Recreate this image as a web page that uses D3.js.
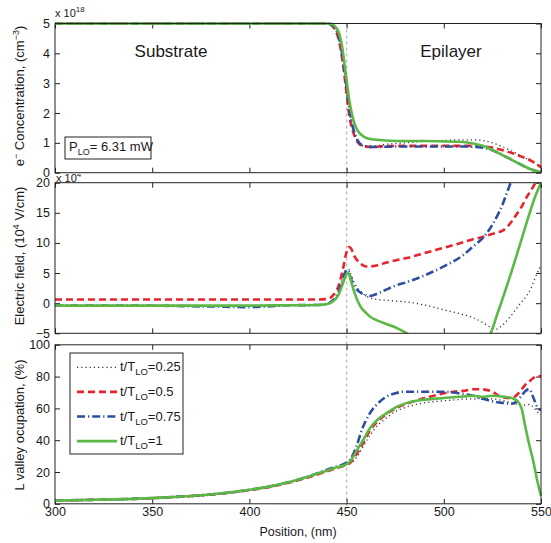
<!DOCTYPE html>
<html>
<head>
<meta charset="utf-8">
<title>LO pulse profiles</title>
<script src="https://d3js.org/d3.v7.min.js"></script>
<style>
  body { margin: 0; background: #fff; }
  text { font-family: "Liberation Sans", Arial, Helvetica, sans-serif; fill: #1a1a1a; }
  .tick line { stroke: #222; }
</style>
</head>
<body>
<div id="chart"></div>
<script>
// ---- data ----
var seriesLabels = ["0.25", "0.5", "0.75", "1"];

// electron concentration (x 1e18 cm^-3)
var concPos   = [300, 440, 442, 444, 446, 448, 449, 450, 451, 452, 454, 456, 459, 463, 470, 480, 490, 500, 510, 515, 520, 525, 530, 535, 540, 545, 550];
var concDot   = [5, 5, 4.96, 4.82, 4.5, 3.8, 3.3, 2.8, 2.3, 1.85, 1.3, 1.02, 0.9, 0.9, 0.95, 1.0, 1.05, 1.08, 1.1, 1.1, 1.08, 1.0, 0.88, 0.72, 0.56, 0.38, 0.2];
var concRed   = [5, 5, 4.95, 4.8, 4.45, 3.7, 3.2, 2.65, 2.1, 1.7, 1.25, 1.0, 0.88, 0.86, 0.89, 0.9, 0.9, 0.9, 0.9, 0.9, 0.88, 0.84, 0.76, 0.66, 0.54, 0.4, 0.18];
var concBlue  = [5, 5, 4.97, 4.85, 4.55, 3.85, 3.35, 2.85, 2.35, 1.9, 1.35, 1.05, 0.9, 0.86, 0.87, 0.88, 0.88, 0.88, 0.88, 0.87, 0.84, 0.75, 0.6, 0.43, 0.26, 0.11, 0.02];
var concGreen = [5, 5, 4.98, 4.9, 4.7, 4.1, 3.6, 3.1, 2.6, 2.2, 1.65, 1.38, 1.2, 1.12, 1.08, 1.06, 1.06, 1.05, 1.03, 0.98, 0.9, 0.76, 0.6, 0.43, 0.26, 0.11, 0.02];

// electric field (x 1e4 V/cm)
var fieldPos   = [300, 340, 380, 400, 420, 435, 440, 443, 446, 448, 450, 451, 452, 454, 457, 460, 462, 466, 470, 475, 481, 490, 500, 510, 515, 520, 524, 527, 530, 533, 535, 538, 540, 543, 545, 547, 550];
var fieldDot   = [-0.4, -0.4, -0.45, -0.5, -0.35, -0.3, -0.1, 0.4, 1.8, 3.8, 5.5, 5.6, 5.0, 3.4, 2.0, 1.2, 0.9, 0.6, 0.5, 0.35, 0.2, -0.3, -1.1, -1.9, -2.4, -3.2, -4.0, -4.3, -3.7, -2.7, -1.9, -0.6, 0.2, 1.4, 2.6, 4.2, 6.3];
var fieldRed   = [0.6, 0.6, 0.6, 0.6, 0.6, 0.6, 0.7, 1.3, 3.0, 5.5, 8.5, 9.3, 9.2, 7.8, 6.6, 6.1, 6.1, 6.3, 6.7, 7.1, 7.5, 8.3, 9.2, 10.1, 10.6, 11.0, 11.4, 11.7, 12.0, 12.8, 13.6, 15.0, 16.0, 17.8, 18.8, 19.9, 21.5];
var fieldBlue  = [-0.4, -0.4, -0.55, -0.65, -0.35, -0.3, -0.1, 0.5, 2.0, 4.0, 5.5, 5.3, 4.3, 2.8, 1.8, 1.3, 1.2, 1.6, 2.2, 2.9, 3.5, 4.6, 6.1, 8.0, 9.4, 10.8, 12.5, 14.2, 16.2, 18.8, 20.5, 23, 24, 26, 27, 28, 30];
var fieldGreen = [-0.4, -0.4, -0.4, -0.4, -0.35, -0.3, -0.15, 0.3, 1.5, 3.2, 4.8, 5.0, 4.0, 1.8, -0.5, -1.6, -2.2, -2.9, -3.4, -4.0, -5.0, -6.3, -7.2, -7.3, -6.9, -6.0, -5.0, -2.3, 0.5, 3.4, 5.4, 8.5, 10.6, 13.8, 15.8, 17.7, 20];

// L valley occupation (%)
var occPos   = [300, 320, 340, 360, 380, 400, 410, 420, 430, 440, 445, 450, 452, 455, 458, 462, 466, 470, 475, 480, 486, 490, 495, 500, 505, 510, 515, 520, 525, 530, 535, 538, 540, 542, 544, 546, 548, 550];
var occDot   = [2.0, 2.5, 3.1, 4.2, 5.8, 8.8, 10.8, 13.5, 17, 21, 23, 25, 25.5, 29, 35, 43, 49.5, 53.5, 58, 60.5, 62.5, 63.5, 64.2, 64.8, 65.3, 65.8, 66, 66.2, 66, 65, 63.5, 62.5, 62, 62, 62.5, 61, 58, 56];
var occRed   = [2.0, 2.5, 3.1, 4.2, 5.8, 8.6, 10.5, 13.2, 16.5, 20.5, 22.5, 24.5, 26, 31, 37, 46, 52, 56, 60, 62.5, 65, 66.5, 68, 69.5, 70.5, 71, 72, 72, 70.5, 67, 66.5, 69, 72, 75, 77, 79, 80.5, 80];
var occBlue  = [2.0, 2.5, 3.1, 4.2, 5.8, 8.8, 10.8, 13.5, 17, 21.5, 23.5, 26, 28, 36, 47, 57, 63, 67, 69.5, 70.5, 70.5, 70.5, 70.5, 70.5, 70, 69, 68, 66, 64.5, 63.5, 63, 65, 68, 71, 72, 67, 61, 59];
var occGreen = [2.0, 2.5, 3.1, 4.2, 5.8, 8.8, 10.8, 13.5, 17, 21, 23, 25, 27, 33, 39, 47.5, 53, 56.5, 60.5, 63, 64.8, 65.5, 66, 66.5, 67, 67.5, 68, 67.3, 68, 67.5, 66.5, 64.5, 60, 48, 37, 27, 15, 5];

var xTicks = [300, 350, 400, 450, 500, 550];

// ---- styles ----
var styles = [
  {color: "#333333", width: 1.3, dash: "1.2,3"},
  {color: "#e8232b", width: 2.6, dash: "7,4"},
  {color: "#2e4f9e", width: 2.6, dash: "8,3,1.2,3"},
  {color: "#5bb845", width: 2.6, dash: null}
];

var W = 551, H = 543;
var left = 55, right = 541;
var svg = d3.select("#chart").append("svg").attr("width", W).attr("height", H);

var x = d3.scaleLinear().domain([300, 550]).range([left, right]);
var fmt = d3.format("d");

var panels = [
  {top: 23.5, bottom: 172.7, domain: [0, 5], ticks: d3.range(0, 6), pos: concPos, vals: [concDot, concRed, concBlue, concGreen]},
  {top: 182.7, bottom: 333.3, domain: [-5, 20], ticks: [-5, 0, 5, 10, 15, 20], pos: fieldPos, vals: [fieldDot, fieldRed, fieldBlue, fieldGreen]},
  {top: 344.8, bottom: 503.8, domain: [0, 100], ticks: [0, 20, 40, 60, 80, 100], pos: occPos, vals: [occDot, occRed, occBlue, occGreen]}
];

// exponent label of panel 2, partly hidden under panel 1
svg.append("clipPath").attr("id", "expclip")
  .append("rect").attr("x", 0).attr("y", 174).attr("width", 120).attr("height", 9);
var exp2 = svg.append("text").attr("x", 56).attr("y", 182).attr("font-size", 11)
  .attr("clip-path", "url(#expclip)");
exp2.append("tspan").text("x 10");
exp2.append("tspan").attr("font-size", 8).attr("dy", -5).text("4");

// vertical marker at 450 nm
svg.append("line")
  .attr("x1", x(450)).attr("x2", x(450))
  .attr("y1", panels[0].top).attr("y2", panels[2].bottom + 2)
  .attr("stroke", "#bdbdbd").attr("stroke-width", 1.4).attr("stroke-dasharray", "3,3");

panels.forEach(function(p, i) {
  var y = d3.scaleLinear().domain(p.domain).range([p.bottom, p.top]);
  var g = svg.append("g");

  var cid = "clip" + i;
  svg.append("clipPath").attr("id", cid).append("rect")
    .attr("x", left - 1).attr("y", p.top - 1.5)
    .attr("width", right - left + 2).attr("height", p.bottom - p.top + 1.5);

  // axes
  g.append("g").attr("transform", "translate(" + left + ",0)")
    .call(d3.axisLeft(y).tickValues(p.ticks).tickFormat(fmt).tickSizeInner(-5).tickSizeOuter(0).tickPadding(5))
    .call(function(a) { a.select(".domain").remove(); a.selectAll("text").attr("font-size", 12.5).attr("fill", "#1a1a1a").attr("font-family", null); });
  g.append("g").attr("transform", "translate(" + right + ",0)")
    .call(d3.axisRight(y).tickValues(p.ticks).tickSizeInner(-5).tickSizeOuter(0).tickFormat(""))
    .call(function(a) { a.select(".domain").remove(); });
  g.append("g").attr("transform", "translate(0," + p.top + ")")
    .call(d3.axisTop(x).tickValues(xTicks).tickSizeInner(-5).tickSizeOuter(0).tickFormat(""))
    .call(function(a) { a.select(".domain").remove(); });
  var bx = g.append("g").attr("transform", "translate(0," + p.bottom + ")")
    .call(d3.axisBottom(x).tickValues(xTicks).tickSizeInner(-5).tickSizeOuter(0).tickPadding(3))
    .call(function(a) { a.select(".domain").remove(); a.selectAll("text").attr("font-size", 12.5).attr("fill", "#1a1a1a").attr("font-family", null); });
  if (i < 2) bx.selectAll("text").remove();

  // lines
  var line = d3.line()
    .x(function(d) { return x(d[0]); })
    .y(function(d) { return y(d[1]); })
    .curve(d3.curveMonotoneX);
  var lg = g.append("g").attr("clip-path", "url(#" + cid + ")");
  p.vals.forEach(function(v, k) {
    var pts = p.pos.map(function(px, j) { return [px, v[j]]; });
    lg.append("path").datum(pts)
      .attr("d", line)
      .attr("fill", "none")
      .attr("stroke", styles[k].color)
      .attr("stroke-width", styles[k].width)
      .attr("stroke-dasharray", styles[k].dash);
  });

  g.append("rect")
    .attr("x", left).attr("y", p.top)
    .attr("width", right - left).attr("height", p.bottom - p.top)
    .attr("fill", "none").attr("stroke", "#222").attr("stroke-width", 1);
});

// ---- axis titles ----
function yTitle(cy, parts) {
  var t = svg.append("text")
    .attr("transform", "translate(24," + cy + ") rotate(-90)")
    .attr("text-anchor", "middle").attr("font-size", 13);
  parts.forEach(function(s) {
    var ts = t.append("tspan").text(s[0]);
    if (s[1] === "sup") ts.attr("font-size", 9).attr("dy", -5);
    if (s[1] === "back") ts.attr("dy", 5);
  });
}
yTitle(96, [["e"], ["\u2212", "sup"], [" Concentration, (cm", "back"], ["\u22123", "sup"], [")", "back"]]);
yTitle(256, [["Electric field, (10"], ["4", "sup"], [" V/cm)", "back"]]);
yTitle(425, [["L valley ocupation, (%)"]]);

svg.append("text").attr("x", (left + right) / 2).attr("y", 536)
  .attr("text-anchor", "middle").attr("font-size", 12.5).text("Position, (nm)");

// panel 1 exponent
var exp1 = svg.append("text").attr("x", 55).attr("y", 17).attr("font-size", 11);
exp1.append("tspan").text("x 10");
exp1.append("tspan").attr("font-size", 8).attr("dy", -5).text("18");

// region labels
svg.append("text").attr("x", 171).attr("y", 57).attr("text-anchor", "middle").attr("font-size", 17).text("Substrate");
svg.append("text").attr("x", 451).attr("y", 57).attr("text-anchor", "middle").attr("font-size", 17).text("Epilayer");

// P_LO box
svg.append("rect").attr("x", 65).attr("y", 137).attr("width", 86).attr("height", 22)
  .attr("fill", "#fff").attr("stroke", "#222").attr("stroke-width", 1);
var pt = svg.append("text").attr("x", 69).attr("y", 151).attr("font-size", 13);
pt.append("tspan").text("P");
pt.append("tspan").attr("font-size", 9).attr("dy", 4).text("LO");
pt.append("tspan").attr("dy", -4).text("= 6.31 mW");

// ---- legend ----
var leg = svg.append("g");
leg.append("rect").attr("x", 70).attr("y", 353).attr("width", 113).attr("height", 101)
  .attr("fill", "#fff").attr("stroke", "#222").attr("stroke-width", 1);
seriesLabels.forEach(function(lab, k) {
  var ly = 367.3 + k * 24.6;
  leg.append("line").attr("x1", 77).attr("x2", 117).attr("y1", ly).attr("y2", ly)
    .attr("stroke", styles[k].color).attr("stroke-width", styles[k].width)
    .attr("stroke-dasharray", styles[k].dash);
  var t = leg.append("text").attr("x", 120).attr("y", ly + 4).attr("font-size", 13);
  t.append("tspan").text("t/T");
  t.append("tspan").attr("font-size", 9.5).attr("dy", 4).text("LO");
  t.append("tspan").attr("dy", -4).text("=" + lab);
});
</script>
</body>
</html>
